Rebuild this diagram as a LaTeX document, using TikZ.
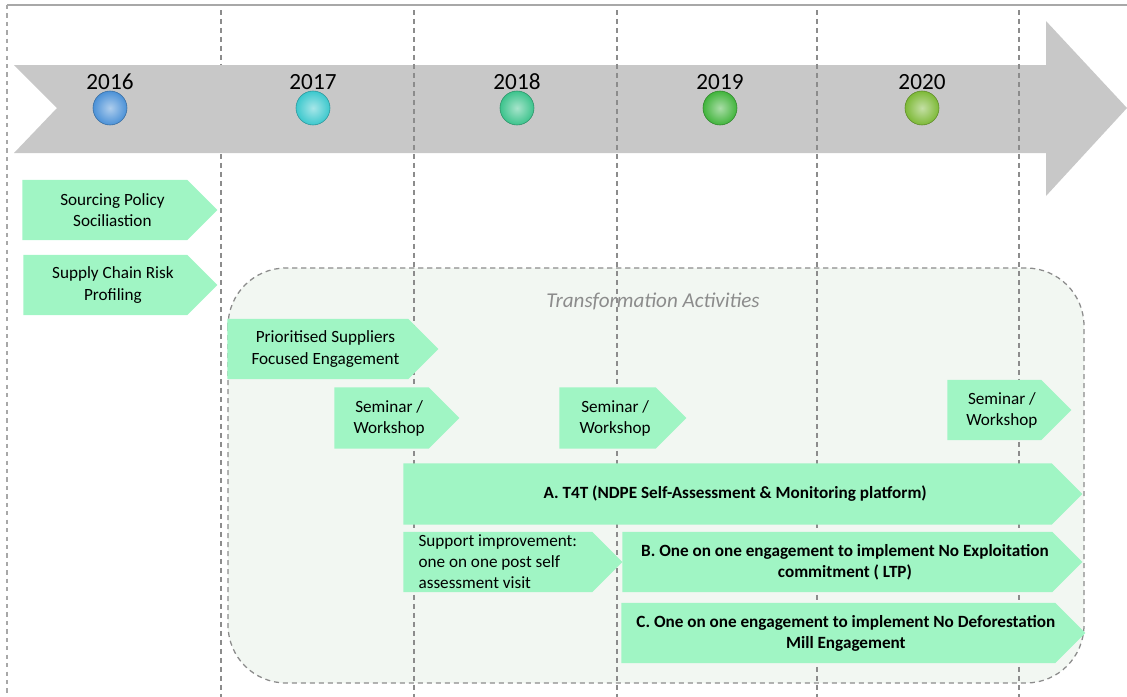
\documentclass[tikz,border=0pt]{standalone}
\usepackage{fontspec}
\setmainfont{Carlito}
\usepackage{xcolor}
\usepackage{tikz}
\usetikzlibrary{shapes.symbols,shadings}

\definecolor{mint}{RGB}{160,245,196}
\definecolor{palegreen}{RGB}{242,247,242}
\definecolor{bandgray}{RGB}{200,200,200}
\definecolor{gridgray}{RGB}{140,140,140}
\definecolor{framegray}{RGB}{168,168,168}
\definecolor{c2016}{RGB}{75,145,215}
\definecolor{c2017}{RGB}{60,200,205}
\definecolor{c2018}{RGB}{60,195,140}
\definecolor{c2019}{RGB}{65,180,60}
\definecolor{c2020}{RGB}{125,185,55}

\begin{document}
\begin{tikzpicture}[
  x=0.025cm, y=-0.025cm,
  frame/.style={draw=framegray, line width=1.4pt},
  gridline/.style={draw=gridgray, line width=0.9pt, dash pattern=on 3.6pt off 2.8pt},
  box/.style={shape=signal, signal to=east, signal pointer angle=90, fill=mint,
    inner sep=0pt, minimum height=1.5cm, anchor=west, align=center,
    font=\fontsize{12.2}{15}\selectfont},
  phase/.style={box, execute at begin node=\hspace*{0.38cm}},
  key/.style={phase, font=\fontsize{12.2}{15}\selectfont\bfseries},
  year/.style={font=\fontsize{16.5}{18}\selectfont},
  ball/.style={circle, minimum size=0.85cm, inner sep=0pt, draw=#1!75!black,
    line width=0.4pt, inner color=#1!45!white, outer color=#1}
]

\useasboundingbox (0,0) rectangle (1127,697);

\draw[frame] (7,5) -- (1127,5);
\draw[frame, dashed] (7,5) -- (7,697);

\draw[rounded corners=1.45cm, fill=palegreen, draw=gridgray, line width=0.9pt,
  dash pattern=on 3.6pt off 2.8pt] (228,268) rectangle (1084,683);
\node[font=\fontsize{15}{17}\selectfont\itshape, text=gridgray] (transform) at (653,301) {Transformation Activities};

\draw[gridline] (221,10) -- (221,697);
\fill[bandgray] (14,65) -- (1046,65) -- (1046,21) -- (1127,108) -- (1046,196)
  -- (1046,153) -- (14,153) -- (57,108) -- cycle;
\foreach \x in {414,617,817,1019}
  \draw[gridline] (\x,10) -- (\x,697);

\foreach \yr/\x in {2016/110,2017/313,2018/517,2019/720,2020/922} {
  \node[year] (y\yr) at (\x,82) {\yr};
  \node[ball=c\yr] (b\yr) at (\x,108) {};
}

\node[phase, minimum width=4.875cm] (policy) at (22,210) {Sourcing Policy\\Sociliastion};
\node[phase, minimum width=4.85cm] (risk) at (23,285) {Supply Chain Risk\\Profiling};
\node[phase, minimum width=5.275cm] (suppliers) at (227,349) {Prioritised Suppliers\\Focused Engagement};
\node[phase, minimum width=3.125cm, minimum height=1.525cm] (sem1) at (334,418) {Seminar /\\Workshop};
\node[phase, minimum width=3.175cm, minimum height=1.525cm] (sem2) at (559,418) {Seminar /\\Workshop};
\node[phase, minimum width=3.1cm] (sem3) at (947,410) {Seminar /\\Workshop};
\node[key, minimum width=16.975cm, minimum height=1.525cm] (tft) at (403,494) {A. T4T (NDPE Self-Assessment \& Monitoring platform)};
\node[box, minimum width=5.475cm, align=left] (support) at (403,562) {Support improvement:\\one on one post self\\assessment visit};
\node[key, minimum width=11.5cm] (exploit) at (622,562) {B. One on one engagement to implement No Exploitation\\commitment ( LTP)};
\node[key, minimum width=11.5cm] (deforest) at (621,633) {C. One on one engagement to implement No Deforestation\\Mill Engagement};

\end{tikzpicture}
\end{document}
